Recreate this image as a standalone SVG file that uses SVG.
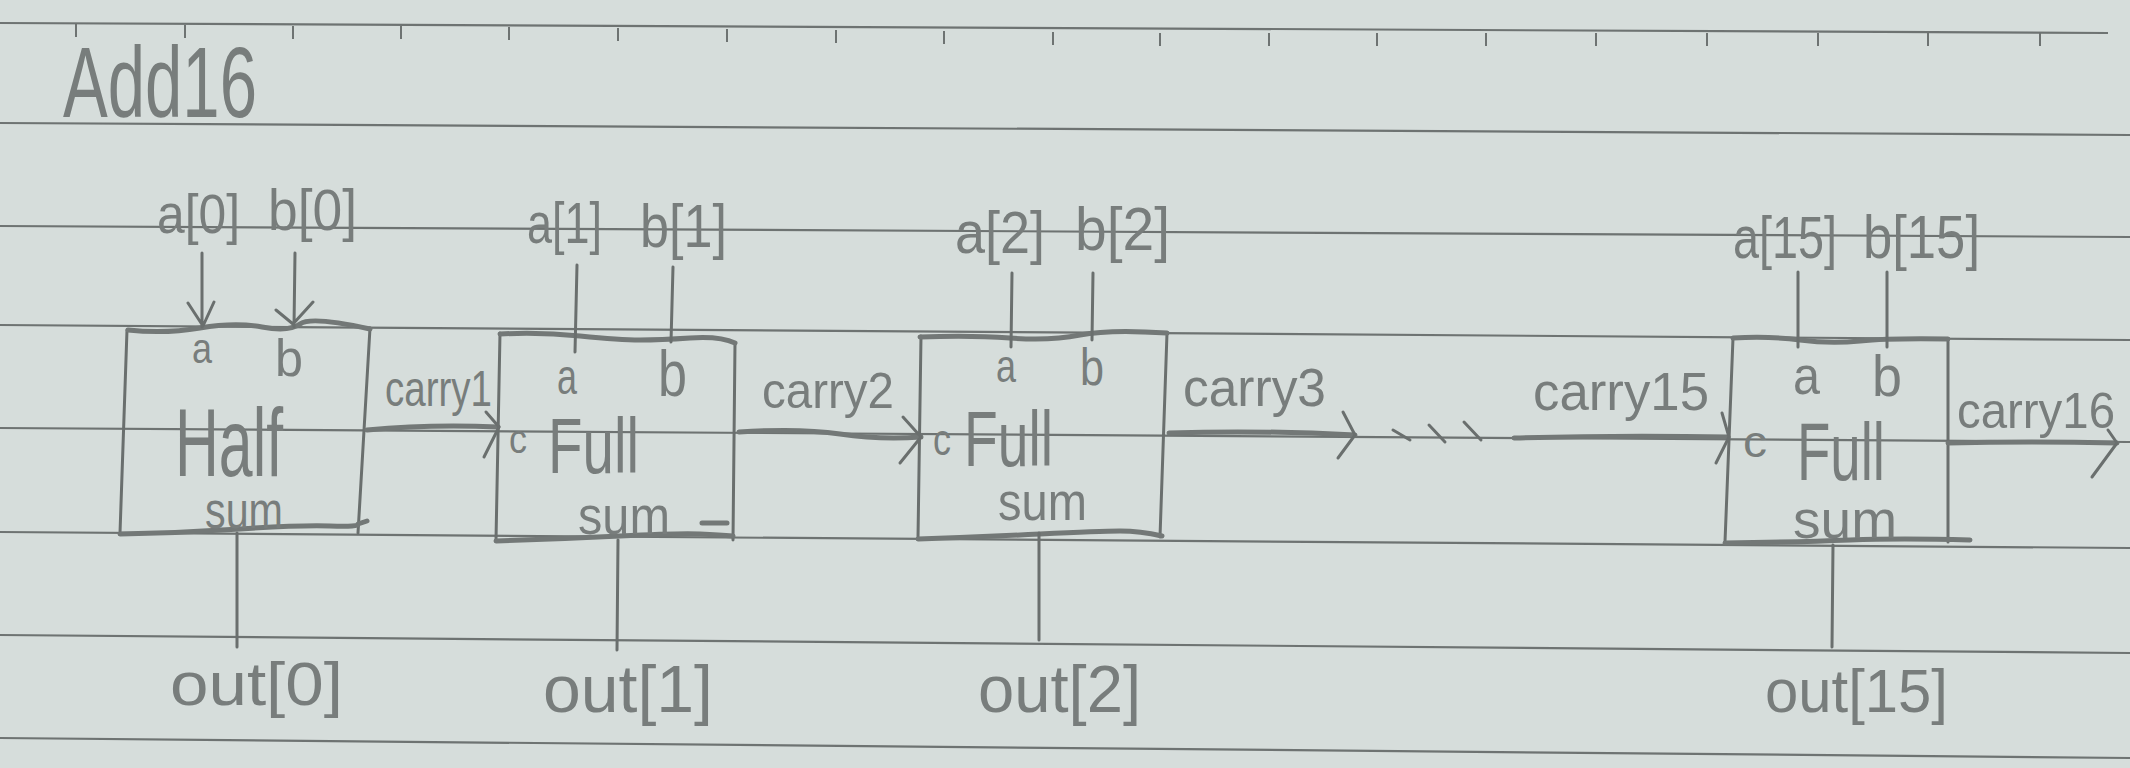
<svg xmlns="http://www.w3.org/2000/svg" width="2130" height="768" viewBox="0 0 2130 768">
<defs>
<style>
.rule{stroke:#6e7372;stroke-width:2.2;fill:none}
.tick{stroke:#6e7372;stroke-width:2;fill:none}
.edge{stroke:#6a6f6e;stroke-width:3;fill:none;stroke-linecap:round;stroke-linejoin:round}
.thick{stroke:#737877;stroke-width:5;fill:none;stroke-linecap:round;stroke-linejoin:round}
.wire{stroke:#6a6f6e;stroke-width:3;fill:none;stroke-linecap:round;stroke-linejoin:round}
.bus{stroke:#737877;stroke-width:5;fill:none;stroke-linecap:round;stroke-linejoin:round}
.t{font-family:"Liberation Sans",Arial,sans-serif;fill:#787d7c;}
</style>
</defs>
<rect x="0" y="0" width="2130" height="768" fill="#d6dddb"/>
<g id="paper">
<path class="rule" d="M0,23 L2108,33"/>
<g class="tick">
<path d="M76,24 v13 M185,25 v13 M293,26 v13 M401,26 v13 M509,27 v13 M618,28 v13 M727,29 v13 M836,30 v13 M944,31 v13 M1053,32 v13 M1160,33 v13 M1269,33 v13 M1377,33 v13 M1486,33 v13 M1596,33 v13 M1707,33 v13 M1818,33 v13 M1928,33 v13 M2040,33 v13"/>
</g>
<path class="rule" d="M0,123 L2130,135"/>
<path class="rule" d="M0,226 L2130,237"/>
<path class="rule" d="M0,325 L2130,340"/>
<path class="rule" d="M0,428 L2130,442"/>
<path class="rule" d="M0,532 L2130,548"/>
<path class="rule" d="M0,635 L2130,653"/>
<path class="rule" d="M0,738 L2130,758"/>
</g>
<g id="title">
<text class="t" x="63" y="117" font-size="100" textLength="194" lengthAdjust="spacingAndGlyphs">Add16</text>
</g>
<g id="node-half">
<path class="edge" d="M127,330 L120,533 M370,328 L358,533"/>
<path class="thick" d="M128,330 Q165,334 200,328 T262,327 T300,324 T370,329"/>
<path class="thick" d="M120,534 Q180,533 240,529 T330,526 T358,524 L367,521"/>
<text class="t" x="192" y="363" font-size="42" textLength="20" lengthAdjust="spacingAndGlyphs">a</text>
<text class="t" x="275" y="376" font-size="52" textLength="28" lengthAdjust="spacingAndGlyphs">b</text>
<text class="t" x="175" y="476" font-size="96" textLength="108" lengthAdjust="spacingAndGlyphs">Half</text>
<text class="t" x="205" y="528" font-size="52" textLength="78" lengthAdjust="spacingAndGlyphs">sum</text>
</g>
<g id="node-full1">
<path class="edge" d="M500,333 L496,540 M735,343 L733,540"/>
<path class="thick" d="M500,334 Q540,332 580,336 T640,340 T690,338 T735,343"/>
<path class="thick" d="M496,541 Q560,539 620,536 T700,534 T733,536 M702,523 L727,523"/>
<text class="t" x="557" y="394" font-size="50" textLength="20" lengthAdjust="spacingAndGlyphs">a</text>
<text class="t" x="658" y="396" font-size="64" textLength="29" lengthAdjust="spacingAndGlyphs">b</text>
<text class="t" x="509" y="453" font-size="40" textLength="18" lengthAdjust="spacingAndGlyphs">c</text>
<text class="t" x="548" y="473" font-size="78" textLength="91" lengthAdjust="spacingAndGlyphs">Full</text>
<text class="t" x="578" y="534" font-size="54" textLength="92" lengthAdjust="spacingAndGlyphs">sum</text>
</g>
<g id="node-full2">
<path class="edge" d="M921,336 L918,538 M1167,333 L1160,537"/>
<path class="thick" d="M920,337 Q970,335 1010,338 T1080,335 T1167,333"/>
<path class="thick" d="M918,539 Q980,537 1040,534 T1120,531 T1162,536"/>
<text class="t" x="996" y="382" font-size="46" textLength="20" lengthAdjust="spacingAndGlyphs">a</text>
<text class="t" x="1080" y="385" font-size="52" textLength="24" lengthAdjust="spacingAndGlyphs">b</text>
<text class="t" x="933" y="455" font-size="44" textLength="18" lengthAdjust="spacingAndGlyphs">c</text>
<text class="t" x="964" y="466" font-size="78" textLength="89" lengthAdjust="spacingAndGlyphs">Full</text>
<text class="t" x="998" y="520" font-size="54" textLength="89" lengthAdjust="spacingAndGlyphs">sum</text>
</g>
<g id="node-full15">
<path class="edge" d="M1733,338 L1725,542 M1948,339 L1948,542"/>
<path class="thick" d="M1733,338 Q1770,336 1800,340 T1860,341 T1948,339"/>
<path class="thick" d="M1725,543 Q1800,542 1850,540 T1970,540"/>
<text class="t" x="1793" y="394" font-size="54" textLength="27" lengthAdjust="spacingAndGlyphs">a</text>
<text class="t" x="1872" y="396" font-size="58" textLength="30" lengthAdjust="spacingAndGlyphs">b</text>
<text class="t" x="1743" y="457" font-size="44" textLength="24" lengthAdjust="spacingAndGlyphs">c</text>
<text class="t" x="1797" y="480" font-size="82" textLength="88" lengthAdjust="spacingAndGlyphs">Full</text>
<text class="t" x="1793" y="538" font-size="54" textLength="104" lengthAdjust="spacingAndGlyphs">sum</text>
</g>
<g id="connectors">
<path class="wire" d="M202,253 L202,327 M188,303 L203,326 L214,302"/>
<path class="wire" d="M295,253 L294,327 M276,310 L293,324 L313,302"/>
<path class="wire" d="M577,265 L575,352 M673,267 L671,342"/>
<path class="wire" d="M1012,273 L1011,347 M1093,273 L1092,340"/>
<path class="wire" d="M1798,272 L1798,347 M1887,272 L1887,347"/>
<path class="bus" d="M367,430 Q430,424 498,427"/>
<path class="wire" d="M486,412 L499,427 L484,457"/>
<path class="bus" d="M739,432 Q800,428 840,434 T921,437"/>
<path class="wire" d="M903,417 L921,437 L900,463"/>
<path class="bus" d="M1169,433 Q1260,430 1355,435"/>
<path class="wire" d="M1343,412 L1355,435 L1338,458"/>
<path class="wire" d="M1393,430 L1410,440 M1429,425 L1445,442 M1464,422 L1481,440"/>
<path class="bus" d="M1514,438 Q1620,435 1728,437"/>
<path class="wire" d="M1722,413 L1729,437 L1716,463"/>
<path class="bus" d="M1948,443 Q2030,441 2117,443"/>
<path class="wire" d="M2108,430 L2117,443 L2092,477"/>
<path class="wire" d="M237,533 L237,647"/>
<path class="wire" d="M618,540 L617,650"/>
<path class="wire" d="M1039,533 L1039,640"/>
<path class="wire" d="M1833,545 L1832,647"/>
<text class="t" x="157" y="233" font-size="56" textLength="83" lengthAdjust="spacingAndGlyphs">a[0]</text>
<text class="t" x="268" y="230" font-size="58" textLength="89" lengthAdjust="spacingAndGlyphs">b[0]</text>
<text class="t" x="527" y="243" font-size="58" textLength="75" lengthAdjust="spacingAndGlyphs">a[1]</text>
<text class="t" x="640" y="247" font-size="62" textLength="87" lengthAdjust="spacingAndGlyphs">b[1]</text>
<text class="t" x="955" y="253" font-size="60" textLength="90" lengthAdjust="spacingAndGlyphs">a[2]</text>
<text class="t" x="1075" y="250" font-size="62" textLength="95" lengthAdjust="spacingAndGlyphs">b[2]</text>
<text class="t" x="1733" y="258" font-size="60" textLength="104" lengthAdjust="spacingAndGlyphs">a[15]</text>
<text class="t" x="1863" y="258" font-size="62" textLength="117" lengthAdjust="spacingAndGlyphs">b[15]</text>
<text class="t" x="385" y="406" font-size="50" textLength="107" lengthAdjust="spacingAndGlyphs">carry1</text>
<text class="t" x="762" y="408" font-size="50" textLength="132" lengthAdjust="spacingAndGlyphs">carry2</text>
<text class="t" x="1183" y="406" font-size="54" textLength="143" lengthAdjust="spacingAndGlyphs">carry3</text>
<text class="t" x="1533" y="410" font-size="54" textLength="176" lengthAdjust="spacingAndGlyphs">carry15</text>
<text class="t" x="1957" y="428" font-size="50" textLength="158" lengthAdjust="spacingAndGlyphs">carry16</text>
<text class="t" x="170" y="705" font-size="62" textLength="173" lengthAdjust="spacingAndGlyphs">out[0]</text>
<text class="t" x="543" y="712" font-size="66" textLength="170" lengthAdjust="spacingAndGlyphs">out[1]</text>
<text class="t" x="978" y="712" font-size="66" textLength="163" lengthAdjust="spacingAndGlyphs">out[2]</text>
<text class="t" x="1765" y="712" font-size="62" textLength="183" lengthAdjust="spacingAndGlyphs">out[15]</text>
</g>
</svg>
